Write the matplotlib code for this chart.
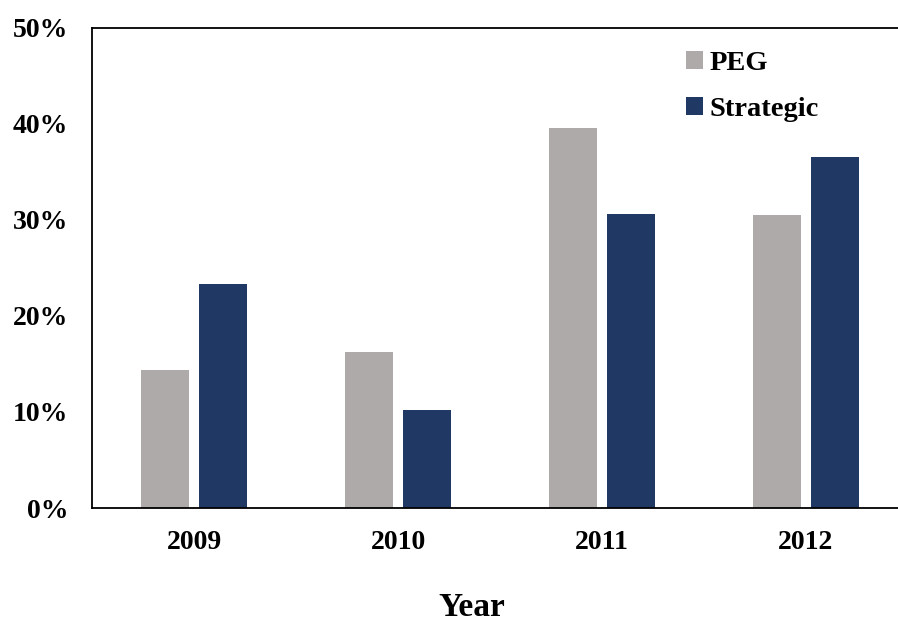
import matplotlib
matplotlib.use("Agg")
import matplotlib.pyplot as plt
import numpy as np
from matplotlib.ticker import FuncFormatter

years = ["2009", "2010", "2011", "2012"]
peg = [14.4, 16.2, 39.5, 30.5]
strategic = [23.3, 10.2, 30.6, 36.5]

plt.rcParams["font.family"] = ["Liberation Serif", "DejaVu Serif"]
plt.rcParams["font.weight"] = "bold"

W, H = 898, 619
fig = plt.figure(figsize=(W / 100, H / 100), dpi=100)
ax = fig.add_axes([92 / W, (H - 508) / H, (908 - 92) / W, (508 - 27.5) / H])

x = np.arange(len(years))
bw = 0.235
gap = 0.05
off = (bw + gap) / 2
ax.bar(x - off, peg, width=bw, color="#AEAAAA", label="PEG")
ax.bar(x + off, strategic, width=bw, color="#203864", label="Strategic")

ax.set_xlim(-0.5, 3.5)
ax.set_ylim(0, 50)
ax.set_yticks(np.arange(0, 51, 10))
ax.yaxis.set_major_formatter(FuncFormatter(lambda v, p: f"{int(v)}%"))
ax.set_xticks(x)
ax.set_xticklabels(years)
ax.tick_params(axis="both", length=0, labelsize=20)
ax.tick_params(axis="y", pad=17)
ax.tick_params(axis="x", pad=16)
for lab in ax.get_xticklabels() + ax.get_yticklabels():
    lab.set_fontweight("bold")

for s in ["left", "top", "bottom", "right"]:
    ax.spines[s].set_linewidth(1.3)
    ax.spines[s].set_color("black")

fig.text(472 / W, (H - 616) / H, "Year", fontsize=24, fontweight="bold",
         ha="center", va="baseline")

leg = ax.legend(loc="upper left", bbox_to_anchor=(686 / W, (H - 51) / H),
                bbox_transform=fig.transFigure, frameon=False,
                fontsize=20.5, handlelength=0.58, handleheight=0.58,
                handletextpad=0.25, labelspacing=0.75, borderpad=0,
                borderaxespad=0)
for t in leg.get_texts():
    t.set_fontweight("bold")

fig.savefig("out.png", dpi=100)
